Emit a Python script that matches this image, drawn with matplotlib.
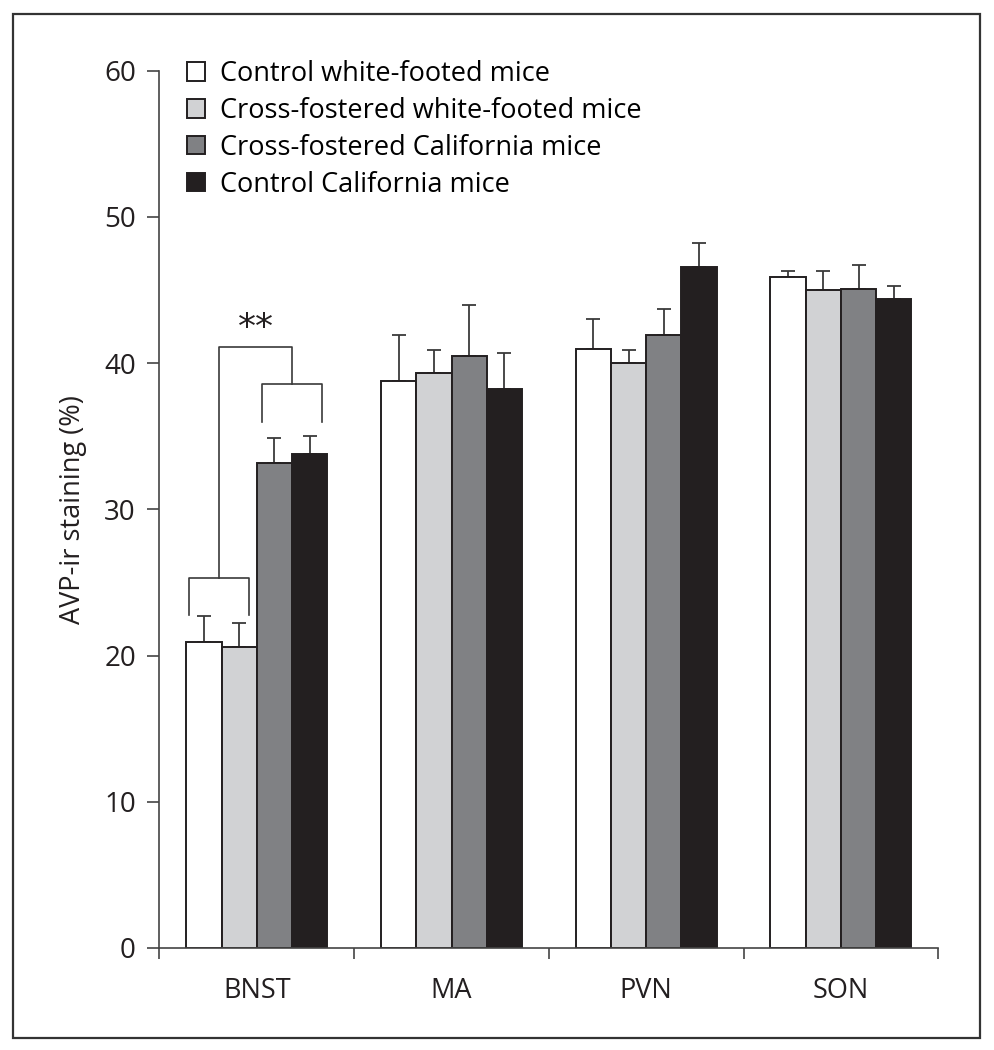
import numpy as np
import matplotlib
matplotlib.use('Agg')
import matplotlib.pyplot as plt
from matplotlib.patches import Patch, Rectangle

plt.rcParams['font.family'] = ['Open Sans', 'DejaVu Sans']

regions = ['BNST', 'MA', 'PVN', 'SON']
groups = ['Control white-footed mice', 'Cross-fostered white-footed mice',
          'Cross-fostered California mice', 'Control California mice']

# mean AVP-ir staining (%)
control_wf = [20.9, 38.8, 41.0, 45.9]
cross_wf = [20.6, 39.3, 40.0, 45.0]
cross_ca = [33.2, 40.5, 41.9, 45.1]
control_ca = [33.8, 38.2, 46.6, 44.4]

# SEM (upper bars only)
control_wf_err = [1.8, 3.1, 2.0, 0.4]
cross_wf_err = [1.6, 1.6, 0.9, 1.3]
cross_ca_err = [1.7, 3.5, 1.8, 1.6]
control_ca_err = [1.2, 2.5, 1.6, 0.9]

colors = ['#ffffff', '#d1d2d4', '#808184', '#231f20']
edge = '#231f20'

means = [control_wf, cross_wf, cross_ca, control_ca]
errs = [control_wf_err, cross_wf_err, cross_ca_err, control_ca_err]

fig = plt.figure(figsize=(9.95, 10.5), dpi=100)
ax = fig.add_axes([159.5/995, 1-948/1050, (938.3-159.5)/995, (948-70.7)/1050])

x = np.arange(len(regions))
w = 0.181
centers = []
for i in range(4):
    xi = x + (i - 1.5) * w
    centers.append(xi)
    ax.bar(xi, means[i], w, color=colors[i], edgecolor=edge, linewidth=1.4, zorder=2)
    ax.errorbar(xi, means[i], yerr=[np.zeros(4), errs[i]], fmt='none',
                ecolor='#3a3a3a', elinewidth=1.3, capsize=5, capthick=1.3, zorder=1)

# significance bracket for BNST
bc = [c[0] for c in centers]
lk = '#3a3a3a'
lw = 1.2
l1, l2 = bc[0] - 0.075, bc[1] + 0.048
r1, r2 = bc[2] - 0.062, bc[3] + 0.065
ax.plot([l1, l1, l2, l2], [22.8, 25.3, 25.3, 22.8], color=lk, lw=lw)
ax.plot([r1, r1, r2, r2], [36.0, 38.6, 38.6, 36.0], color=lk, lw=lw)
ml, mr = (l1 + l2) / 2, (r1 + r2) / 2
ax.plot([ml, ml, mr, mr], [25.3, 41.1, 41.1, 38.6], color=lk, lw=lw)
ax.text((ml + mr) / 2, 42.4, '**', ha='center', va='center', fontsize=26,
        family='DejaVu Sans', color='#231f20')

ax.set_xlim(-0.5, 3.5)
ax.set_ylim(0, 60)
ax.set_yticks(np.arange(0, 61, 10))
ax.set_xticks(np.arange(-0.5, 3.6, 1))
ax.set_xticklabels([])
ax.set_xticks(x, minor=True)
ax.set_xticklabels(regions, minor=True)
ax.tick_params(axis='x', which='minor', length=0, pad=21, labelsize=19.5, colors='#231f20')
ax.tick_params(axis='x', which='major', length=8, width=1.2, color='#444444', direction='out')
ax.tick_params(axis='y', length=9, width=1.2, color='#444444', labelsize=20,
               labelcolor='#231f20', pad=8)
for s in ['top', 'right']:
    ax.spines[s].set_visible(False)
for s in ['left', 'bottom']:
    ax.spines[s].set_color('#444444')
    ax.spines[s].set_linewidth(1.2)
ax.set_ylabel('AVP-ir staining (%)', fontsize=19.5, color='#231f20', labelpad=12)

handles = [Patch(facecolor=c, edgecolor=edge, linewidth=1.4) for c in colors]
ax.legend(handles, groups, loc='upper left', bbox_to_anchor=(187/995, 1-60/1050),
          bbox_transform=fig.transFigure, frameon=False, fontsize=19.5,
          handlelength=0.66, handleheight=0.66, handletextpad=0.55,
          labelspacing=0.33, borderpad=0, borderaxespad=0)

fig.patches.append(Rectangle((13/995, 1-1038/1050), (980-13)/995, (1038-14)/1050,
                             transform=fig.transFigure, fill=False,
                             edgecolor='#333333', linewidth=1.6))

fig.savefig('out.png', dpi=100)
